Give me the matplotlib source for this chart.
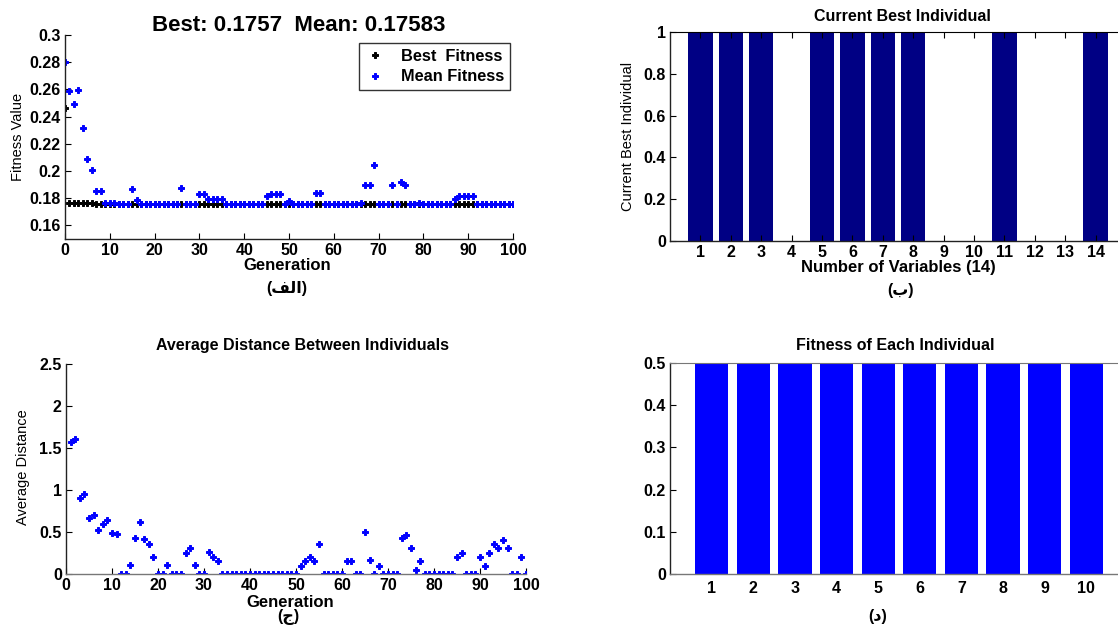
import matplotlib
matplotlib.use('Agg')
import matplotlib.pyplot as plt

plt.rcParams['font.family'] = ['Liberation Sans', 'DejaVu Sans']

# ---------------- data ----------------
generations = list(range(0, 101))
best_fitness = [
    0.2465, 0.1768, 0.1768, 0.1768, 0.1768, 0.1768, 0.1768, 0.1757, 0.1757, 0.1757,
    0.1757, 0.1757, 0.1757, 0.1757, 0.1757, 0.1757, 0.1757, 0.1757, 0.1757, 0.1757,
    0.1757, 0.1757, 0.1757, 0.1757, 0.1757, 0.1757, 0.1757, 0.1757, 0.1757, 0.1757,
    0.1757, 0.1757, 0.1757, 0.1757, 0.1757, 0.1757, 0.1757, 0.1757, 0.1757, 0.1757,
    0.1757, 0.1757, 0.1757, 0.1757, 0.1757, 0.1757, 0.1757, 0.1757, 0.1757, 0.1757,
    0.1757, 0.1757, 0.1757, 0.1757, 0.1757, 0.1757, 0.1757, 0.1757, 0.1757, 0.1757,
    0.1757, 0.1757, 0.1757, 0.1757, 0.1757, 0.1757, 0.1757, 0.1757, 0.1757, 0.1757,
    0.1757, 0.1757, 0.1757, 0.1757, 0.1757, 0.1757, 0.1757, 0.1757, 0.1757, 0.1757,
    0.1757, 0.1757, 0.1757, 0.1757, 0.1757, 0.1757, 0.1757, 0.1757, 0.1757, 0.1757,
    0.1757, 0.1757, 0.1757, 0.1757, 0.1757, 0.1757, 0.1757, 0.1757, 0.1757, 0.1757,
    0.1757,
]
mean_fitness = [
    0.2799, 0.2586, 0.2495, 0.2597, 0.2313, 0.2091, 0.2005, 0.1856, 0.1856, 0.1766,
    0.1764, 0.1763, 0.1758, 0.1758, 0.1758, 0.1868, 0.1784, 0.1758, 0.1758, 0.1758,
    0.1758, 0.1758, 0.1758, 0.1758, 0.1758, 0.1758, 0.1875, 0.1758, 0.1758, 0.1758,
    0.1831, 0.1831, 0.1791, 0.1791, 0.1791, 0.1791, 0.1758, 0.1758, 0.1758, 0.1758,
    0.1758, 0.1758, 0.1758, 0.1758, 0.1758, 0.1816, 0.1831, 0.1831, 0.1831, 0.1758,
    0.1779, 0.1758, 0.1758, 0.1758, 0.1758, 0.1758, 0.1841, 0.1841, 0.1758, 0.1758,
    0.1758, 0.1758, 0.1758, 0.1758, 0.1758, 0.1758, 0.1762, 0.1900, 0.1900, 0.2044,
    0.1758, 0.1758, 0.1758, 0.1900, 0.1758, 0.1919, 0.1900, 0.1758, 0.1758, 0.1762,
    0.1758, 0.1758, 0.1760, 0.1760, 0.1760, 0.1758, 0.1758, 0.1791, 0.1816, 0.1816,
    0.1816, 0.1816, 0.1758, 0.1758, 0.1758, 0.1758, 0.1758, 0.1758, 0.1758, 0.1758,
    0.1758,
]

distance_generations = list(range(1, 101))
avg_distance = [
    1.575, 1.603, 0.906, 0.958, 0.661, 0.704, 0.518, 0.601, 0.645, 0.491,
    0.479, 0.0, 0.0, 0.103, 0.431, 0.621, 0.412, 0.356, 0.206, 0.0,
    0.0, 0.103, 0.0, 0.0, 0.0, 0.253, 0.309, 0.103, 0.0, 0.0,
    0.257, 0.206, 0.154, 0.0, 0.0, 0.0, 0.0, 0.0, 0.0, 0.0,
    0.0, 0.0, 0.0, 0.0, 0.0, 0.0, 0.0, 0.0, 0.0, 0.0,
    0.10, 0.15, 0.20, 0.15, 0.36, 0.0, 0.0, 0.0, 0.0, 0.0,
    0.15, 0.15, 0.0, 0.0, 0.50, 0.17, 0.0, 0.10, 0.0, 0.0,
    0.0, 0.0, 0.43, 0.47, 0.305, 0.05, 0.15, 0.0, 0.0, 0.0,
    0.0, 0.0, 0.0, 0.0, 0.20, 0.254, 0.0, 0.0, 0.0, 0.20,
    0.10, 0.254, 0.356, 0.305, 0.408, 0.305, 0.0, 0.0, 0.20, 0.0,
]

variables = list(range(1, 15))
best_individual = [1, 1, 1, 0, 1, 1, 1, 1, 0, 0, 1, 0, 0, 1]

individuals = list(range(1, 11))
individual_fitness = [0.5, 0.5, 0.5, 0.5, 0.5, 0.5, 0.5, 0.5, 0.5, 0.5]

gen_ticks = [0, 10, 20, 30, 40, 50, 60, 70, 80, 90, 100]
gen_ticklabels = ['0', '10', '20', '30', '40', '50', '60', '70', '80', '90', '100']
fit_ticks = [0.16, 0.18, 0.2, 0.22, 0.24, 0.26, 0.28, 0.3]
fit_ticklabels = ['0.16', '0.18', '0.2', '0.22', '0.24', '0.26', '0.28', '0.3']
dist_ticks = [0, 0.5, 1, 1.5, 2, 2.5]
dist_ticklabels = ['0', '0.5', '1', '1.5', '2', '2.5']
ind_ticks = [0, 0.2, 0.4, 0.6, 0.8, 1]
ind_ticklabels = ['0', '0.2', '0.4', '0.6', '0.8', '1']
score_ticks = [0, 0.1, 0.2, 0.3, 0.4, 0.5]
score_ticklabels = ['0', '0.1', '0.2', '0.3', '0.4', '0.5']

label_a = '(\uFED2\uFEDF\uFE8D)'   # (الف)
label_b = '(\uFE8F)'               # (ب)
label_c = '(\uFE9D)'               # (ج)
label_d = '(\uFEA9)'               # (د)

# ---------------- figure ----------------
W, H = 1118, 628
fig = plt.figure(figsize=(W / 100, H / 100), dpi=100)


def px_axes(left, top, right, bottom):
    return fig.add_axes([left / W, 1 - bottom / H, (right - left) / W, (bottom - top) / H])


def style(ax, top=False, topcolor='black'):
    ax.spines['right'].set_visible(False)
    ax.spines['top'].set_visible(top)
    ax.spines['top'].set_color(topcolor)
    for s in ['left', 'bottom']:
        ax.spines[s].set_color('#222222')
        ax.spines[s].set_linewidth(1.0)
    ax.tick_params(direction='in', length=4, width=0.8, pad=3.0, colors='black')


TICKFONT = dict(fontsize=11.5, fontweight='bold')
MS = 4.8
MEW = 0.7

# ---- top-left: fitness ----
ax1 = px_axes(65, 35, 513, 239)
style(ax1)
ax1.plot(generations, best_fitness, linestyle='none', marker='P', markersize=MS,
         color='black', markeredgewidth=MEW, label='Best  Fitness')
ax1.plot(generations, mean_fitness, linestyle='none', marker='P', markersize=MS,
         color='#0000FF', markeredgewidth=MEW, label='Mean Fitness')
ax1.set_xlim(0, 100)
ax1.set_ylim(0.15, 0.3)
ax1.set_xticks(gen_ticks)
ax1.set_xticklabels(gen_ticklabels, **TICKFONT)
ax1.set_yticks(fit_ticks)
ax1.set_yticklabels(fit_ticklabels, **TICKFONT)
ax1.text(0.522, 1.049, 'Best: 0.1757  Mean: 0.17583', transform=ax1.transAxes,
         ha='center', va='center', fontsize=16, fontweight='bold')
ax1.set_xlabel('Generation', fontsize=12, fontweight='bold')
ax1.xaxis.set_label_coords(0.497, -0.13)
ax1.xaxis.label.set_va('center')
ax1.set_ylabel('Fitness Value', fontsize=10.5)
ax1.yaxis.set_label_coords(-0.105, 0.5)
ax1.yaxis.label.set_va('center')
leg = ax1.legend(loc='upper right', bbox_to_anchor=((510 - 65) / 448, (239 - 43) / 204),
                 borderaxespad=0, fancybox=False, frameon=True, handlelength=1.2,
                 handletextpad=1.0, labelspacing=0.35, borderpad=0.35,
                 prop=dict(size=11.8, weight='bold'), markerscale=1.0)
leg.get_frame().set_edgecolor('black')
leg.get_frame().set_linewidth(1.0)
fig.text(287 / W, 1 - 288 / H, label_a, ha='center', va='center', fontsize=11.5,
         fontweight='bold')

# ---- top-right: current best individual ----
ax2 = px_axes(670, 32, 1126, 241)
style(ax2, top=True)
ax2.bar(variables, best_individual, width=0.8, color='#000084', edgecolor='none')
ax2.set_xlim(0, 15)
ax2.set_ylim(0, 1)
ax2.set_xticks(variables)
ax2.set_xticklabels([str(v) for v in variables], **TICKFONT)
ax2.set_yticks(ind_ticks)
ax2.set_yticklabels(ind_ticklabels, **TICKFONT)
ax2.tick_params(axis='x', top=True)
ax2.text(0.509, 1.072, 'Current Best Individual', transform=ax2.transAxes,
         ha='center', va='center', fontsize=11.5, fontweight='bold')
ax2.set_xlabel('Number of Variables (14)', fontsize=12, fontweight='bold')
ax2.xaxis.set_label_coords(0.5, -0.128)
ax2.xaxis.label.set_va('center')
ax2.set_ylabel('Current Best Individual', fontsize=10.5)
ax2.yaxis.set_label_coords(-0.092, 0.5)
ax2.yaxis.label.set_va('center')
fig.text(900 / W, 1 - 290 / H, label_b, ha='center', va='center', fontsize=11.5,
         fontweight='bold')

# ---- bottom-left: average distance ----
ax3 = px_axes(66, 364, 526, 574)
style(ax3)
ax3.spines['bottom'].set_color('#777777')
ax3.plot(distance_generations, avg_distance, linestyle='none', marker='P',
         markersize=MS, color='#0000FF', markeredgewidth=MEW)
ax3.set_xlim(0, 100)
ax3.set_ylim(0, 2.5)
ax3.set_xticks(gen_ticks)
ax3.set_xticklabels(gen_ticklabels, **TICKFONT)
ax3.set_yticks(dist_ticks)
ax3.set_yticklabels(dist_ticklabels, **TICKFONT)
ax3.text(0.515, 1.086, 'Average Distance Between Individuals', transform=ax3.transAxes,
         ha='center', va='center', fontsize=11.5, fontweight='bold')
ax3.set_xlabel('Generation', fontsize=12, fontweight='bold')
ax3.xaxis.set_label_coords(0.487, -0.135)
ax3.xaxis.label.set_va('center')
ax3.set_ylabel('Average Distance', fontsize=10.5)
ax3.yaxis.set_label_coords(-0.093, 0.509)
ax3.yaxis.label.set_va('center')
fig.text(288 / W, 1 - 617 / H, label_c, ha='center', va='center', fontsize=11.5,
         fontweight='bold')

# ---- bottom-right: fitness of each individual ----
ax4 = px_axes(670, 363, 1128, 574)
style(ax4, top=True, topcolor='#777777')
ax4.spines['bottom'].set_color('#777777')
ax4.bar(individuals, individual_fitness, width=0.8, color='#0000FF', edgecolor='none')
ax4.set_xlim(0, 11)
ax4.set_ylim(0, 0.5)
ax4.set_xticks(individuals)
ax4.set_xticklabels([str(v) for v in individuals], **TICKFONT)
ax4.set_yticks(score_ticks)
ax4.set_yticklabels(score_ticklabels, **TICKFONT)
ax4.tick_params(axis='x', length=0, pad=5)
ax4.text(0.491, 1.085, 'Fitness of Each Individual', transform=ax4.transAxes,
         ha='center', va='center', fontsize=11.5, fontweight='bold')
fig.text(878 / W, 1 - 617 / H, label_d, ha='center', va='center', fontsize=11.5,
         fontweight='bold')

fig.savefig('out.png', dpi=100)
